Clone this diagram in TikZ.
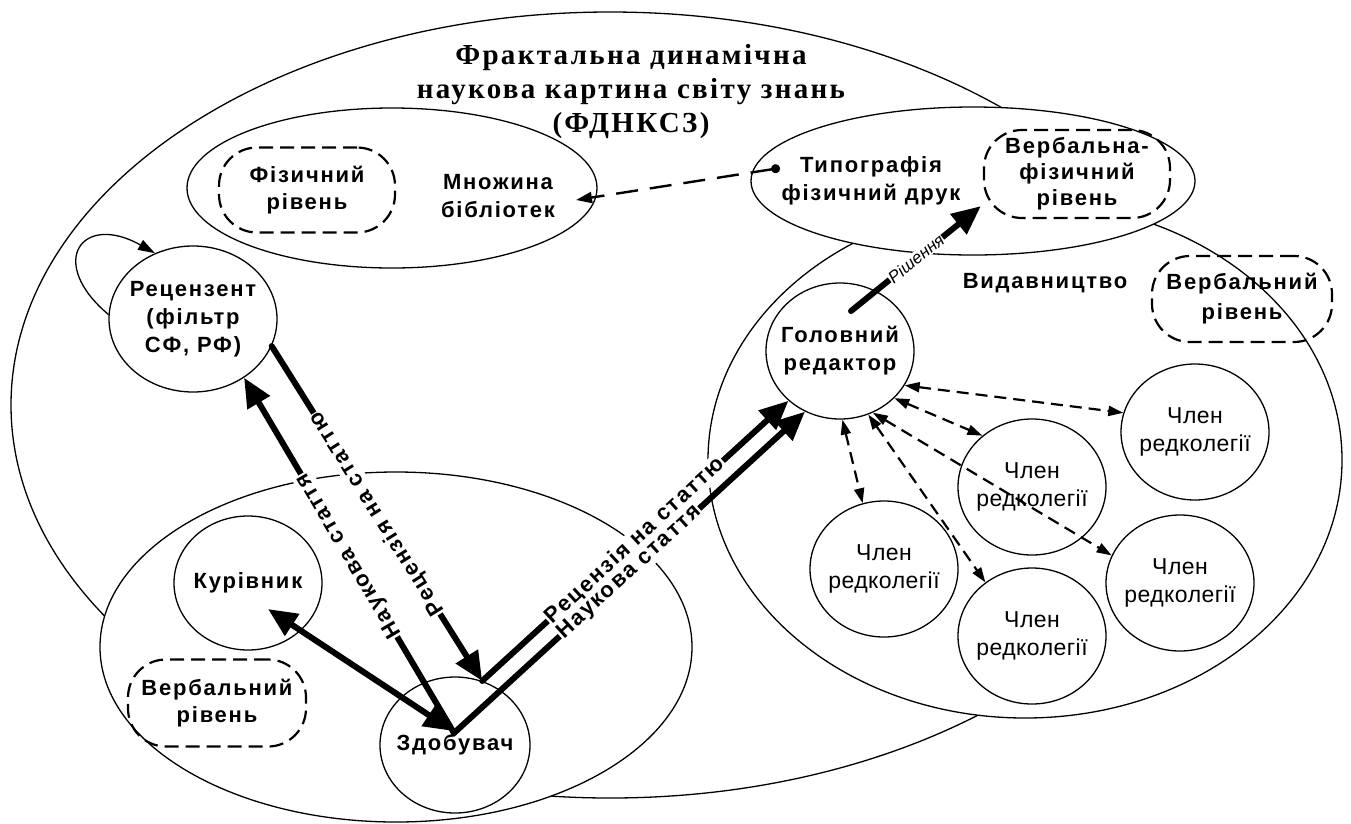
\documentclass[tikz,border=0pt]{standalone}
\usepackage{fontspec}
\setmainfont{Liberation Sans}
\newfontfamily\bls[LetterSpace=8]{Liberation Sans}
\newfontfamily\mls[LetterSpace=2]{Liberation Sans}
\newfontfamily\tls[LetterSpace=8]{Liberation Serif}
\usetikzlibrary{shapes.geometric,arrows.meta,calc}
\begin{document}
\begin{tikzpicture}[x=1pt,y=-1pt,
  ell/.style={draw,ellipse,line width=1.3pt,fill=white,inner sep=0pt},
  bt/.style={font={\bls\bfseries\fontsize{22pt}{28pt}\selectfont},align=center,inner sep=0pt},
  mt/.style={font={\mls\fontsize{23pt}{28pt}\selectfont},align=center,inner sep=0pt},
  dbox/.style={draw,rounded corners=38pt,line width=2.2pt,dash pattern=on 14pt off 7pt,
     font={\bls\bfseries\fontsize{22pt}{27pt}\selectfont},align=center,inner sep=0pt},
  memb/.style={ell,minimum width=148pt,minimum height=136pt},
  thickarr/.style={line width=6pt,line cap=round,-{Triangle[length=29pt,width=25pt]}},
  dasharr/.style={line width=2.2pt,dash pattern=on 12pt off 7pt,
     {Triangle[length=15pt,width=10pt]}-{Triangle[length=15pt,width=10pt]}},
  lbl/.style={fill=white,inner sep=1pt,font={\bls\bfseries\fontsize{22pt}{22pt}\selectfont}},
  slbl/.style={fill=white,inner sep=0.5pt,font={\itshape\fontsize{17pt}{17pt}\selectfont}}
]
\useasboundingbox (0,0) rectangle (1351,823);
% big ellipses
\node[ell,minimum width=1198pt,minimum height=786pt] (world) at (610,405) {};
\node[ell,minimum width=592pt,minimum height=350pt] (sci) at (396,647) {};
\node[ell,minimum width=410pt,minimum height=160pt] (lib) at (392,188) {};
\node[ell,minimum width=634pt,minimum height=516pt] (pub) at (1025,460) {};
\node[ell,minimum width=444pt,minimum height=148pt] (typo) at (973,181) {};
% title
\node[font={\tls\bfseries\fontsize{29pt}{34pt}\selectfont},align=center,inner sep=0pt] (title) at (631,92)
  {Фрактальна динамічна\\наукова картина світу знань\\(ФДНКСЗ)};
% texts and dashed boxes
\node[dbox,minimum width=176pt,minimum height=85pt] (phys) at (307,190) {Фізичний\\рівень};
\node[bt] (libt) at (498,196) {Множина\\бібліотек};
\node[bt] (typot) at (871,181) {Типографія\\фізичний друк};
\node[dbox,minimum width=186pt,minimum height=88pt,font={\bls\bfseries\fontsize{22pt}{26pt}\selectfont}] (vf) at (1077,174) {Вербальна-\\фізичний\\рівень};
\node[bt] (pubt) at (1045,283) {Видавництво};
\node[dbox,minimum width=180pt,minimum height=86pt,font={\bls\bfseries\fontsize{22pt}{30pt}\selectfont}] (vr) at (1242,299) {Вербальний\\рівень};
\node[dbox,minimum width=178pt,minimum height=87pt] (vl) at (217,703) {Вербальний\\рівень};
% circles
\node[ell,minimum width=168pt,minimum height=146pt] (rez) at (193,319) {};
\node[bt] (rezt) at (rez.center) {Рецензент\\(фільтр\\СФ, РФ)};
\node[ell,minimum width=148pt,minimum height=134pt] (kur) at (248,583) {};
\node[bt] (kurt) at (kur.center) {Курівник};
\node[ell,minimum width=150pt,minimum height=136pt] (zdob) at (455,745) {};
\node[bt] (zdobt) at (zdob.center) {Здобувач};
\node[ell,minimum width=148pt,minimum height=136pt] (ed) at (840,351) {};
\node[bt] (edt) at (ed.center) {Головний\\редактор};
\node[memb] (mA) at (1195,432) {};
\node[mt] at (mA.center) {Член\\редколегії};
\node[memb] (mB) at (1032,487) {};
\node[mt] at (mB.center) {Член\\редколегії};
\node[memb] (mC) at (1180,583) {};
\node[mt] at (mC.center) {Член\\редколегії};
\node[memb] (mD) at (1032,636) {};
\node[mt] at (mD.center) {Член\\редколегії};
\node[memb] (mE) at (884,569) {};
\node[mt] at (mE.center) {Член\\редколегії};
% helper coordinates
\coordinate (zs) at ($(zdob.center)+(-1,-12)$);
\coordinate (kt) at ($(kur.center)+(20,26)$);
\coordinate (zt) at ($(zdob.center)+(-2,-14)$);
\coordinate (rs) at ($(ed.center)+(11,-40)$);
\coordinate (re) at ($(vf.south west)+(-2,-13)$);
\coordinate (ds) at ($(typo.center)+(-193,-13)$);
\coordinate (de) at ($(lib.center)+(184,12)$);
% self loop
\draw[line width=1.3pt,-{Triangle[length=17pt,width=11pt]}] (rez.177) .. controls (46,262) and (82,212) .. (rez.120);
% dashed arrows
\draw[dasharr] (ed.-28) -- (mA.165);
\draw[dasharr] (ed.-41) -- (mB.134);
\draw[dasharr] (ed.-62) -- (mC.158);
\draw[dasharr] (ed.-66) -- (mD.131);
\draw[dasharr] (ed.-88) -- (mE.108);
\draw[line width=2.4pt,dash pattern=on 22pt off 12pt,{Circle[length=9pt]}-{Triangle[length=16pt,width=11pt]}] (ds) -- (de);
% thick arrows
\draw[thickarr] (rez.-19) -- (zdob.67) node[lbl,midway,rotate=122] {Рецензія на статтю};
\draw[thickarr] (zs) -- (rez.-49) node[lbl,midway,rotate=120.5] {Наукова стаття};
\draw[thickarr] (zdob.67) -- (ed.224) node[lbl,midway,rotate=42.6] {Рецензія на статтю};
\draw[thickarr] (zs) -- (ed.240) node[lbl,midway,rotate=42.4] {Наукова стаття};
\draw[line width=6pt,{Triangle[length=29pt,width=25pt]}-{Triangle[length=29pt,width=25pt]}] (kt) -- (zt);
\draw[thickarr] (rs) -- (re) node[slbl,midway,rotate=39] {Рішення};
\end{tikzpicture}
\end{document}
